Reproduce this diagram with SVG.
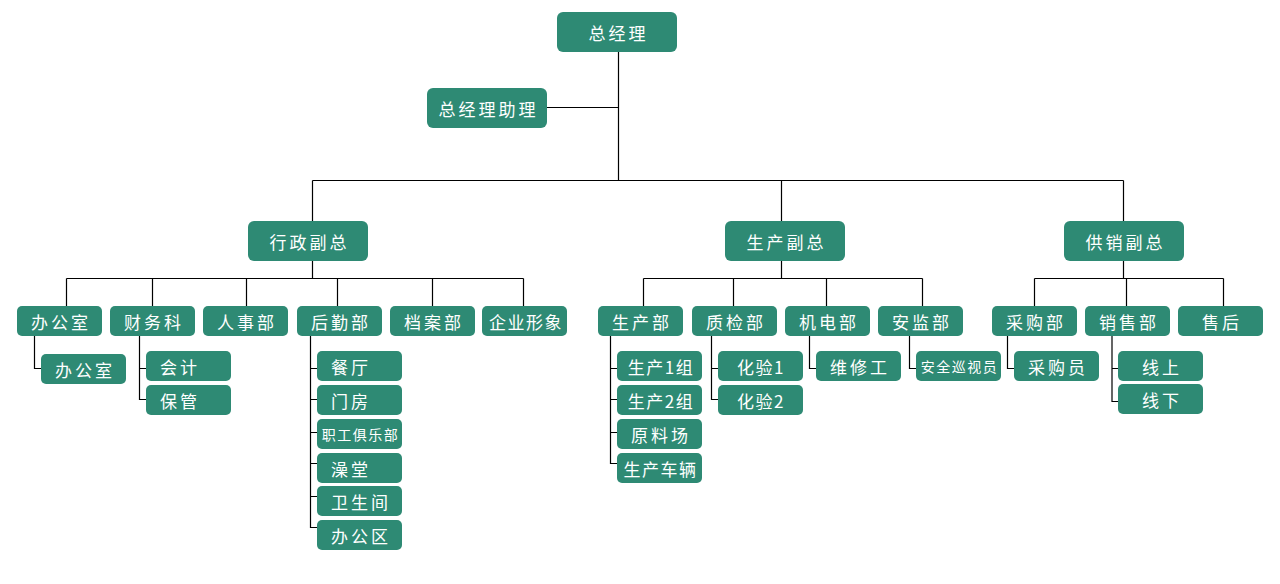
<svg xmlns="http://www.w3.org/2000/svg" width="1280" height="584" viewBox="0 0 1280 584">
<style>
.n rect{fill:#2E8A74;}
.n text{fill:#FFFFFF;font-family:"Noto Sans CJK SC","Noto Sans CJK JP",sans-serif;font-size:17px;letter-spacing:3px;text-anchor:middle;dominant-baseline:central;}
.n text.s{font-size:14px;letter-spacing:1.5px;}
.c path{fill:none;stroke:#000;stroke-width:1.2;}
</style>
<rect width="1280" height="584" fill="#FFFFFF"/>
<g class="c" id="connectors">
<path d="M618.5 52V180.5M547 107.5H618.5M312.5 180.5H1123.5M312.5 180.5V221M781.5 180.5V221M1123.5 180.5V221"/>
<path d="M312.5 261V278.5M66.5 278.5H523.5M66.5 278.5V306M152.5 278.5V306M246.5 278.5V306M337.5 278.5V306M432.5 278.5V306M523.5 278.5V306"/>
<path d="M781.5 261V278.5M643.5 278.5H922.5M643.5 278.5V306M733.5 278.5V306M826.5 278.5V306M922.5 278.5V306"/>
<path d="M1123.5 261V278.5M1034.5 278.5H1223.5M1034.5 278.5V306M1126.5 278.5V306M1223.5 278.5V306"/>
<path d="M34.5 336V368.5H41"/>
<path d="M139.5 336V399.5H146M139.5 368.5H146"/>
<path d="M310.5 336V527.5H317M310.5 368.5H317M310.5 399.5H317M310.5 432.5H317M310.5 463.5H317M310.5 496.5H317"/>
<path d="M610.5 336V463.5H617M610.5 368.5H617M610.5 399.5H617M610.5 432.5H617"/>
<path d="M711.5 336V399.5H718M711.5 368.5H718"/>
<path d="M809.5 336V368.5H816"/>
<path d="M909.5 336V368.5H916"/>
<path d="M1007.5 336V368.5H1014"/>
<path d="M1112 336V401.5H1118M1112 368.5H1118"/>
</g>
<g class="n" id="n-zjl"><rect x="557" y="12" width="120" height="40" rx="6"/><text x="618.5" y="32">总经理</text></g>
<g class="n" id="n-zjlzl"><rect x="427" y="88" width="120" height="40" rx="6"/><text x="488.5" y="108">总经理助理</text></g>
<g class="n" id="n-xzfz"><rect x="248" y="221" width="120" height="40" rx="6"/><text x="309.5" y="241">行政副总</text></g>
<g class="n" id="n-scfz"><rect x="725" y="221" width="120" height="40" rx="6"/><text x="786.5" y="241">生产副总</text></g>
<g class="n" id="n-gxfz"><rect x="1064" y="221" width="120" height="40" rx="6"/><text x="1125.5" y="241">供销副总</text></g>
<g class="n" id="n-bgs"><rect x="17" y="306" width="85" height="30" rx="5"/><text x="61" y="321">办公室</text></g>
<g class="n" id="n-cwk"><rect x="110" y="306" width="85" height="30" rx="5"/><text x="154" y="321">财务科</text></g>
<g class="n" id="n-rsb"><rect x="203" y="306" width="85" height="30" rx="5"/><text x="247" y="321">人事部</text></g>
<g class="n" id="n-hqb"><rect x="297" y="306" width="85" height="30" rx="5"/><text x="341" y="321">后勤部</text></g>
<g class="n" id="n-dab"><rect x="390" y="306" width="85" height="30" rx="5"/><text x="434" y="321">档案部</text></g>
<g class="n" id="n-qyxx"><rect x="482" y="306" width="85" height="30" rx="5"/><text x="526" y="321" style="letter-spacing:1.5px">企业形象</text></g>
<g class="n" id="n-scb"><rect x="598" y="306" width="85" height="30" rx="5"/><text x="642" y="321">生产部</text></g>
<g class="n" id="n-zjb"><rect x="692" y="306" width="85" height="30" rx="5"/><text x="736" y="321">质检部</text></g>
<g class="n" id="n-jdb"><rect x="785" y="306" width="85" height="30" rx="5"/><text x="829" y="321">机电部</text></g>
<g class="n" id="n-ajb"><rect x="878" y="306" width="85" height="30" rx="5"/><text x="922" y="321">安监部</text></g>
<g class="n" id="n-cgb"><rect x="992" y="306" width="85" height="30" rx="5"/><text x="1036" y="321">采购部</text></g>
<g class="n" id="n-xsb"><rect x="1085" y="306" width="85" height="30" rx="5"/><text x="1129" y="321">销售部</text></g>
<g class="n" id="n-sh"><rect x="1178" y="306" width="85" height="30" rx="5"/><text x="1222" y="321">售后</text></g>
<g class="n" id="n-bgs2"><rect x="41" y="354" width="85" height="30" rx="5"/><text x="85" y="369">办公室</text></g>
<g class="n" id="n-kj"><rect x="146" y="351" width="85" height="30" rx="5"/><text x="180" y="366">会计</text></g>
<g class="n" id="n-bg"><rect x="146" y="385" width="85" height="30" rx="5"/><text x="180" y="400">保管</text></g>
<g class="n" id="n-ct"><rect x="317" y="351" width="85" height="30" rx="5"/><text x="351" y="366">餐厅</text></g>
<g class="n" id="n-mf"><rect x="317" y="385" width="85" height="30" rx="5"/><text x="351" y="400">门房</text></g>
<g class="n" id="n-zgjlb"><rect x="317" y="419" width="85" height="30" rx="5"/><text class="s" x="360.5" y="434">职工俱乐部</text></g>
<g class="n" id="n-zt"><rect x="317" y="453" width="85" height="30" rx="5"/><text x="351" y="468">澡堂</text></g>
<g class="n" id="n-wsj"><rect x="317" y="486" width="85" height="30" rx="5"/><text x="361" y="501">卫生间</text></g>
<g class="n" id="n-bgq"><rect x="317" y="520" width="85" height="30" rx="5"/><text x="361" y="535">办公区</text></g>
<g class="n" id="n-sc1"><rect x="617" y="351" width="85" height="30" rx="5"/><text x="661" y="366" style="letter-spacing:1.5px">生产1组</text></g>
<g class="n" id="n-sc2"><rect x="617" y="385" width="85" height="30" rx="5"/><text x="661" y="400" style="letter-spacing:1.5px">生产2组</text></g>
<g class="n" id="n-ylc"><rect x="617" y="419" width="85" height="30" rx="5"/><text x="661" y="434">原料场</text></g>
<g class="n" id="n-sccl"><rect x="617" y="453" width="85" height="30" rx="5"/><text x="660.5" y="468" style="letter-spacing:1.5px">生产车辆</text></g>
<g class="n" id="n-hy1"><rect x="718" y="351" width="85" height="30" rx="5"/><text x="761" y="366" style="letter-spacing:1.5px">化验1</text></g>
<g class="n" id="n-hy2"><rect x="718" y="385" width="85" height="30" rx="5"/><text x="761" y="400" style="letter-spacing:1.5px">化验2</text></g>
<g class="n" id="n-wxg"><rect x="816" y="351" width="85" height="30" rx="5"/><text x="860" y="366">维修工</text></g>
<g class="n" id="n-aqxsy"><rect x="916" y="351" width="85" height="30" rx="5"/><text class="s" x="959.5" y="366">安全巡视员</text></g>
<g class="n" id="n-cgy"><rect x="1014" y="351" width="85" height="30" rx="5"/><text x="1058" y="366">采购员</text></g>
<g class="n" id="n-xs"><rect x="1118" y="351" width="85" height="30" rx="5"/><text x="1162" y="366">线上</text></g>
<g class="n" id="n-xx"><rect x="1118" y="384" width="85" height="30" rx="5"/><text x="1162" y="399">线下</text></g>
</svg>
